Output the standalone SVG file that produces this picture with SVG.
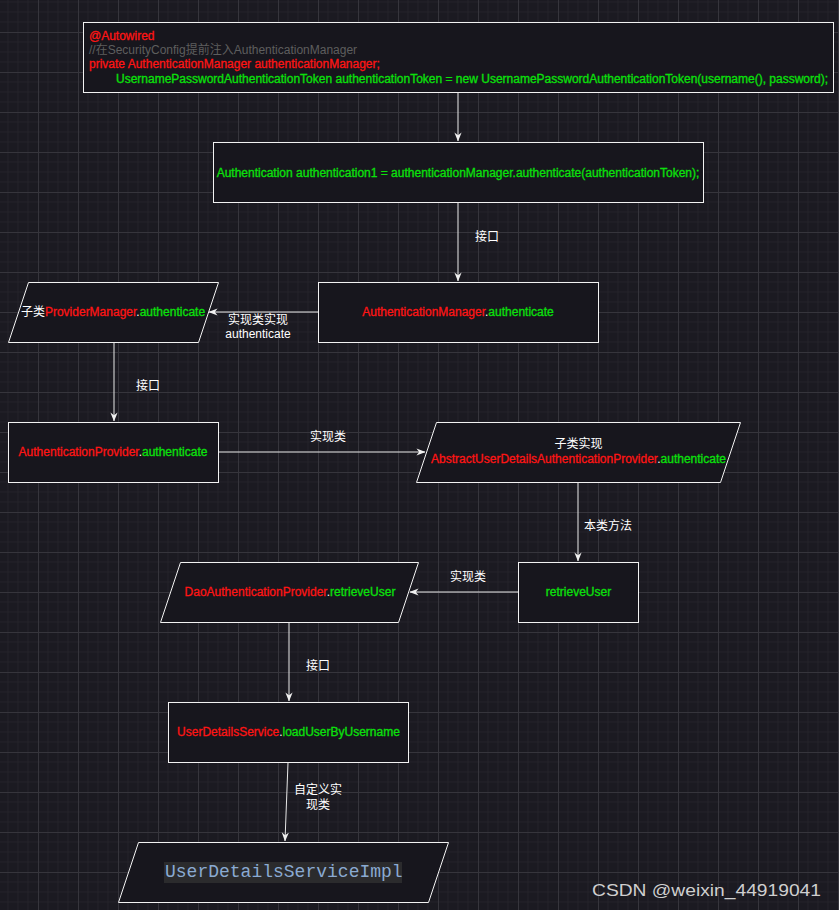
<svg xmlns="http://www.w3.org/2000/svg" width="839" height="910" viewBox="0 0 839 910">
  <style>
    text { font-family: "Liberation Sans", "Noto Sans CJK SC", sans-serif; font-size: 12px; stroke-width: 0.3px; }
    .box { fill: #17161d; stroke: #f2f2f2; stroke-width: 1; }
    .edge { stroke: #e8e8e8; stroke-width: 1; fill: none; }
    .lbl { fill: #ffffff; text-anchor: middle; }
    .mid { text-anchor: middle; }
    .r { fill: #ff1414; stroke: #ff1414; }
    .g { fill: #0be00b; stroke: #0be00b; }
    .w { fill: #ffffff; }
    .c { fill: #5e5e5e; }
  </style>
  <defs>
    <pattern id="grid" x="38" y="32" width="40" height="40" patternUnits="userSpaceOnUse">
      <path d="M10,0 V40 M20,0 V40 M30,0 V40 M0,10 H40 M0,20 H40 M0,30 H40" stroke="#232229" stroke-width="1" fill="none"/>
      <path d="M0.5,0 V40 M0,0.5 H40" stroke="#36353c" stroke-width="1" fill="none"/>
    </pattern>
    <marker id="arr" viewBox="0 0 10 10" refX="9.5" refY="5" markerWidth="9" markerHeight="9" orient="auto" markerUnits="userSpaceOnUse">
      <path d="M0,1 L10,5 L0,9 L3,5 z" fill="#f0f0f0"/>
    </marker>
  </defs>

  <!-- canvas -->
  <rect width="839" height="910" fill="#1b1a21"/>
  <rect width="839" height="910" fill="url(#grid)"/>

  <!-- connectors -->
  <g id="edges">
    <path class="edge" d="M458,92.5 V141" marker-end="url(#arr)"/>
    <path class="edge" d="M458,202.5 V281" marker-end="url(#arr)"/>
    <path class="edge" d="M318,312 H209" marker-end="url(#arr)"/>
    <path class="edge" d="M114,342.5 V421" marker-end="url(#arr)"/>
    <path class="edge" d="M218.5,452 H425" marker-end="url(#arr)"/>
    <path class="edge" d="M578,482.5 V561" marker-end="url(#arr)"/>
    <path class="edge" d="M518,592 H410" marker-end="url(#arr)"/>
    <path class="edge" d="M289,622.5 V701" marker-end="url(#arr)"/>
    <path class="edge" d="M288,762.5 L285,841" marker-end="url(#arr)"/>
    <text class="lbl" x="487" y="241">接口</text>
    <text class="lbl" x="258" y="324">实现类实现</text>
    <text class="lbl" x="258" y="338">authenticate</text>
    <text class="lbl" x="148" y="390">接口</text>
    <text class="lbl" x="328" y="441">实现类</text>
    <text class="lbl" x="608" y="530">本类方法</text>
    <text class="lbl" x="468" y="581">实现类</text>
    <text class="lbl" x="318" y="670">接口</text>
    <text class="lbl" x="318" y="794">自定义实</text>
    <text class="lbl" x="318" y="809">现类</text>
  </g>

  <!-- login code block -->
  <g id="node-login">
    <rect class="box" x="83.5" y="22.5" width="750" height="70"/>
    <text x="89" y="40" class="r">@Autowired</text>
    <text x="89" y="54" class="c">//在SecurityConfig提前注入AuthenticationManager</text>
    <text x="89" y="68" class="r">private AuthenticationManager authenticationManager;</text>
    <text x="116" y="83" class="g">UsernamePasswordAuthenticationToken authenticationToken = new UsernamePasswordAuthenticationToken(username(), password);</text>
  </g>

  <g id="node-authenticate-call">
    <rect class="box" x="213.5" y="142.5" width="490" height="60"/>
    <text x="458" y="176.5" class="mid g">Authentication authentication1 = authenticationManager.authenticate(authenticationToken);</text>
  </g>

  <g id="node-auth-manager">
    <rect class="box" x="318.5" y="282.5" width="280" height="60"/>
    <text x="458" y="316" class="mid"><tspan class="r">AuthenticationManager</tspan><tspan class="w">.</tspan><tspan class="g">authenticate</tspan></text>
  </g>

  <g id="node-provider-manager">
    <path class="box" d="M28.5,282.5 H218.5 L198.5,342.5 H8.5 Z"/>
    <text x="113" y="316" class="mid"><tspan class="w">子类</tspan><tspan class="r">ProviderManager</tspan><tspan class="w">.</tspan><tspan class="g">authenticate</tspan></text>
  </g>

  <g id="node-auth-provider">
    <rect class="box" x="8.5" y="422.5" width="210" height="60"/>
    <text x="113" y="456" class="mid"><tspan class="r">AuthenticationProvider</tspan><tspan class="w">.</tspan><tspan class="g">authenticate</tspan></text>
  </g>

  <g id="node-abstract-provider">
    <path class="box" d="M436.5,422.5 H740.5 L720.5,482.5 H416.5 Z"/>
    <text x="578.5" y="448" class="mid w">子类实现</text>
    <text x="578.5" y="463" class="mid"><tspan class="r">AbstractUserDetailsAuthenticationProvider</tspan><tspan class="w">.</tspan><tspan class="g">authenticate</tspan></text>
  </g>

  <g id="node-retrieve-user">
    <rect class="box" x="518.5" y="562.5" width="120" height="60"/>
    <text x="578.5" y="596" class="mid g">retrieveUser</text>
  </g>

  <g id="node-dao-provider">
    <path class="box" d="M180.5,562.5 H418.5 L398.5,622.5 H160.5 Z"/>
    <text x="290" y="596" class="mid"><tspan class="r">DaoAuthenticationProvider</tspan><tspan class="w">.</tspan><tspan class="g">retrieveUser</tspan></text>
  </g>

  <g id="node-user-details-service">
    <rect class="box" x="168.5" y="702.5" width="240" height="60"/>
    <text x="288.5" y="736" class="mid"><tspan class="r">UserDetailsService</tspan><tspan class="w">.</tspan><tspan class="g">loadUserByUsername</tspan></text>
  </g>

  <g id="node-user-details-impl">
    <path class="box" d="M138.5,842.5 H448.5 L428.5,902.5 H118.5 Z"/>
    <rect x="164" y="862" width="238" height="21" fill="#2b2b2d"/>
    <text x="165" y="877" style="font-family: 'Liberation Mono', monospace; font-size: 18px;" fill="#8aaad2">UserDetailsServiceImpl</text>
  </g>

  <!-- watermark -->
  <text x="592" y="896" style="font-size: 17px;" fill="#cfcfcf" textLength="229" lengthAdjust="spacingAndGlyphs">CSDN @weixin_44919041</text>
</svg>
